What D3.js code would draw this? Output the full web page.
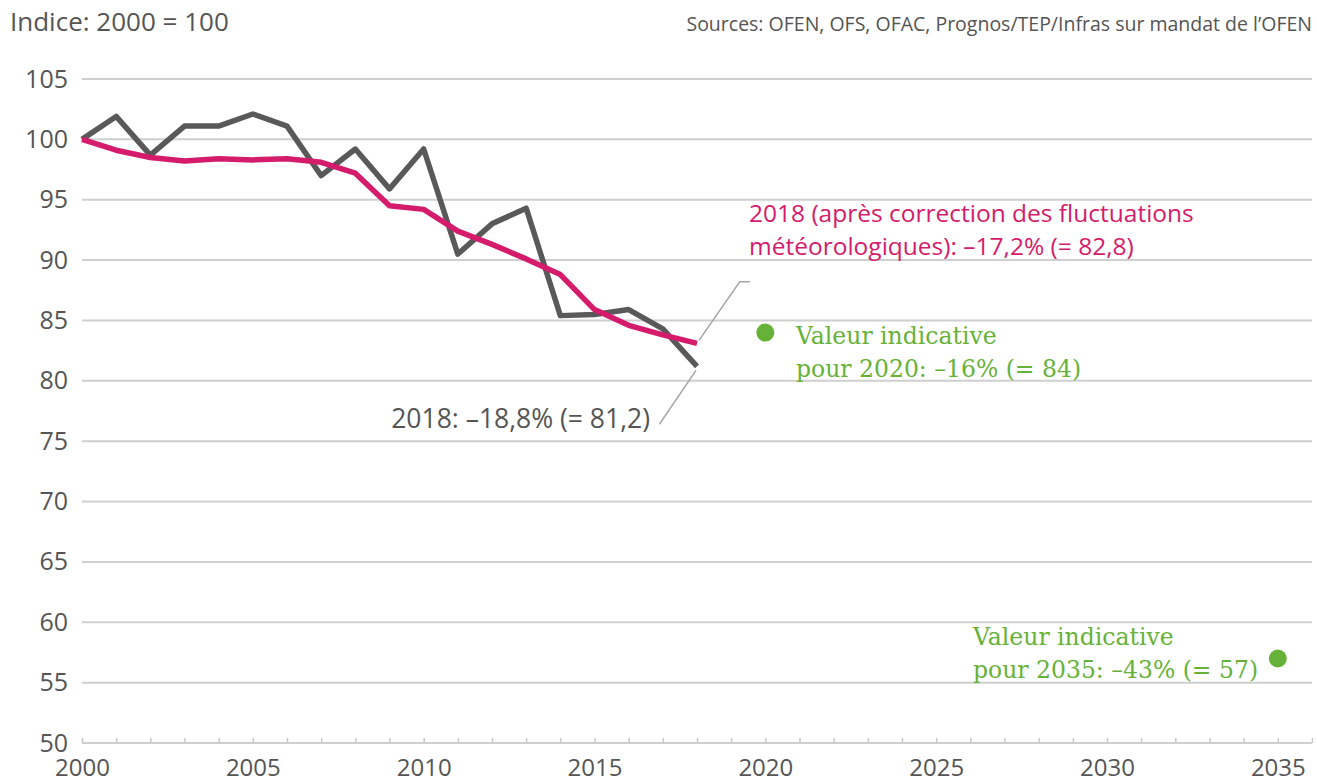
<!DOCTYPE html>
<html>
<head>
<meta charset="utf-8">
<script src="https://cdn.jsdelivr.net/npm/d3@7"></script>
<style>
  body { margin: 0; background: #fff; }
  svg { display: block; font-family: "Open Sans", sans-serif; }
</style>
</head>
<body>
<div id="chart"></div>
<script>
// valeurs (indice 2000 = 100)
const years = d3.range(2000, 2019);
const effectif = [100, 101.9, 98.7, 101.1, 101.1, 102.1, 101.1, 97.0, 99.2, 95.9, 99.2, 90.5, 93.0, 94.3, 85.4, 85.5, 85.9, 84.3, 81.2];
const corrige = [100, 99.1, 98.5, 98.2, 98.4, 98.3, 98.4, 98.1, 97.2, 94.5, 94.2, 92.4, 91.3, 90.1, 88.8, 85.9, 84.6, 83.8, 83.1];
const cibleAnnees = [2020, 2035];
const cibleValeurs = [84, 57];
const yTicks = [50, 55, 60, 65, 70, 75, 80, 85, 90, 95, 100, 105];
const xLabels = [2000, 2005, 2010, 2015, 2020, 2025, 2030, 2035];

const width = 1317;
const height = 782;
const grey = "#595959";
const pink = "#d51b6b";
const green = "#66b238";
const textGrey = "#555";

const svg = d3.select("#chart")
    .append("svg")
    .attr("width", width)
    .attr("height", height);

const x = d3.scaleLinear().domain([2000, 2036]).range([82, 1312]);
const y = d3.scaleLinear().domain([50, 105]).range([743, 79]);

// titre et sources
svg.append("text")
    .attr("x", 10).attr("y", 31)
    .attr("font-size", 26).attr("fill", textGrey)
    .text("Indice: 2000 = 100");

svg.append("text")
    .attr("x", 1312).attr("y", 31)
    .attr("text-anchor", "end")
    .attr("font-size", 19.5).attr("fill", textGrey)
    .text("Sources: OFEN, OFS, OFAC, Prognos/TEP/Infras sur mandat de l\u2019OFEN");

// grille horizontale
svg.append("g")
    .selectAll("line")
    .data(yTicks)
    .join("line")
    .attr("x1", x(2000)).attr("x2", x(2036))
    .attr("y1", d => y(d)).attr("y2", d => y(d))
    .attr("stroke", "#cfcfcf")
    .attr("stroke-width", 2);

// axe y
svg.append("g")
    .attr("transform", `translate(${x(2000)},0)`)
    .call(d3.axisLeft(y).tickValues(yTicks).tickSize(0).tickPadding(14))
    .call(g => g.select(".domain").remove())
    .call(g => g.selectAll("text")
        .attr("font-size", 25)
        .attr("font-family", "Open Sans, sans-serif")
        .attr("fill", textGrey));

// axe x : petits traits chaque année, libellés tous les 5 ans
svg.append("g")
    .attr("transform", `translate(0,${y(50)})`)
    .call(d3.axisTop(x).tickValues(d3.range(2000, 2037)).tickSize(5).tickFormat(""))
    .call(g => g.select(".domain").remove())
    .call(g => g.selectAll("line").attr("stroke", "#c8c8c8").attr("stroke-width", 1.5));

svg.append("g")
    .attr("transform", `translate(0,${y(50)})`)
    .call(d3.axisBottom(x).tickValues(xLabels).tickSize(0).tickPadding(16).tickFormat(d3.format("d")))
    .call(g => g.select(".domain").remove())
    .call(g => g.selectAll("text")
        .attr("font-size", 24)
        .attr("font-family", "Open Sans, sans-serif")
        .attr("fill", textGrey));

// lignes de repère des annotations
const leader = svg.append("g")
    .attr("fill", "none")
    .attr("stroke", "#a6a6a6")
    .attr("stroke-width", 1.5);

leader.append("path")
    .attr("d", d3.line()([[x(2018) + 2, y(corrige[18]) - 3], [x(2019.25), y(88.2)], [x(2019.55), y(88.2)]]));

leader.append("path")
    .attr("d", d3.line()([[x(2018) - 1, y(effectif[18]) + 4], [x(2016.9), y(76.4)]]));

// séries
const line = d3.line()
    .x((d, i) => x(years[i]))
    .y(d => y(d));

svg.append("path")
    .datum(effectif)
    .attr("fill", "none")
    .attr("stroke", grey)
    .attr("stroke-width", 5.5)
    .attr("stroke-linejoin", "round")
    .attr("d", line);

svg.append("path")
    .datum(corrige)
    .attr("fill", "none")
    .attr("stroke", pink)
    .attr("stroke-width", 5.5)
    .attr("stroke-linejoin", "round")
    .attr("d", line);

// valeurs indicatives
svg.append("g")
    .selectAll("circle")
    .data(cibleAnnees)
    .join("circle")
    .attr("cx", d => x(d))
    .attr("cy", (d, i) => y(cibleValeurs[i]))
    .attr("r", 9)
    .attr("fill", green);

// annotations
const note = (xPos, yPos, lines, color, anchor, family, size) => {
  const t = svg.append("text")
      .attr("x", xPos).attr("y", yPos)
      .attr("fill", color)
      .attr("font-size", size)
      .attr("text-anchor", anchor)
      .attr("font-family", family);
  lines.forEach((s, i) => t.append("tspan")
      .attr("x", xPos)
      .attr("dy", i ? 33 : 0)
      .text(s));
};

note(749, 222, ["2018 (après correction des fluctuations", "météorologiques): \u201317,2% (= 82,8)"], pink, "start", "Open Sans, sans-serif", 24.5);
note(650, 428, ["2018: \u201318,8% (= 81,2)"], textGrey, "end", "Open Sans, sans-serif", 26.5);
note(796, 344, ["Valeur indicative", "pour 2020: \u201316% (= 84)"], green, "start", "DejaVu Serif, serif", 23.5);
note(973, 645, ["Valeur indicative", "pour 2035: \u201343% (= 57)"], green, "start", "DejaVu Serif, serif", 23.5);
</script>
</body>
</html>
